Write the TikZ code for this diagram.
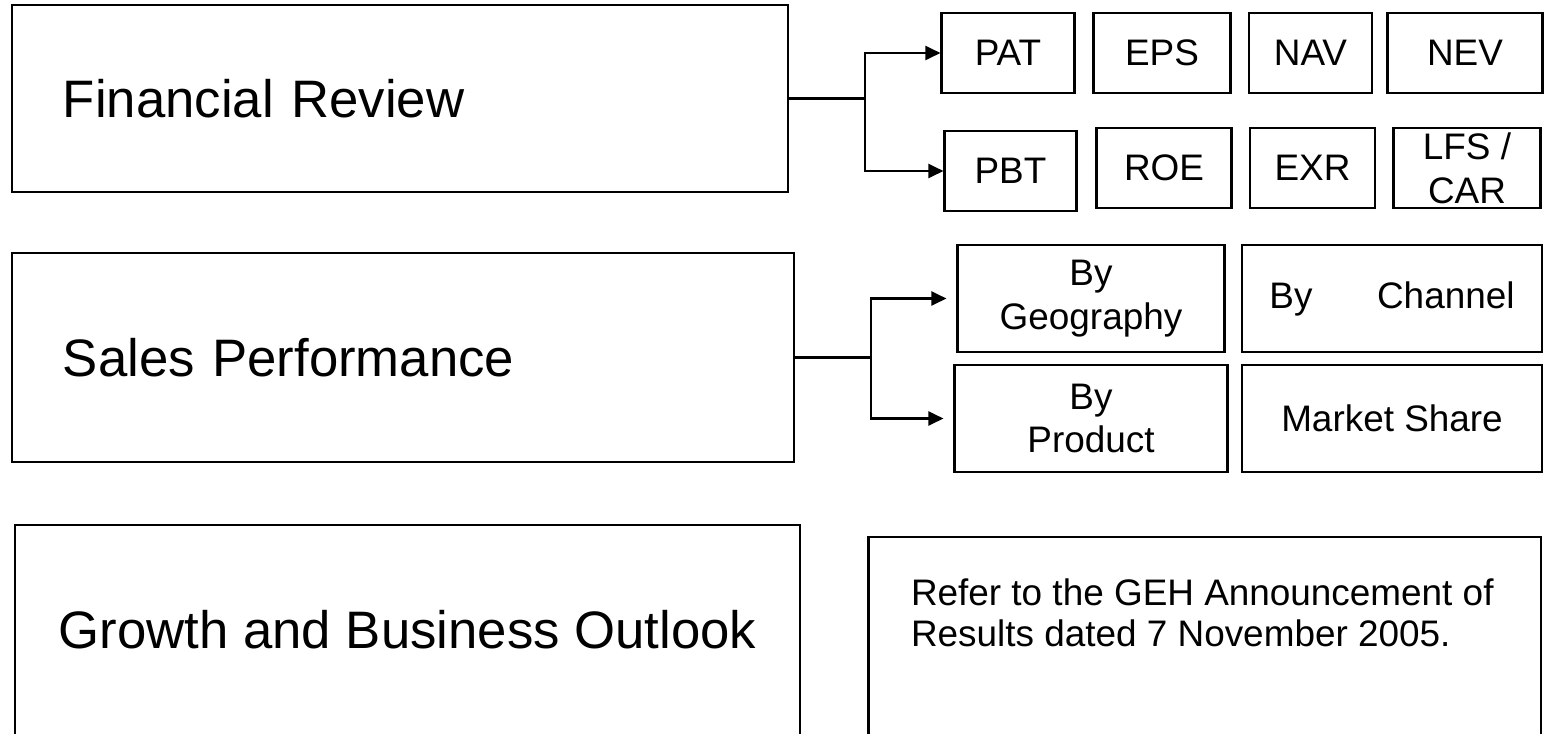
\documentclass[tikz,border=0pt]{standalone}
\usepackage{fontspec}
\setmainfont{Liberation Sans}
\usetikzlibrary{arrows.meta}
\begin{document}
\begin{tikzpicture}[
        head/.style={draw=black,rectangle,line width=0.7pt,align=left,inner xsep=5.1mm,font=\fontsize{15}{18}\selectfont},
        item/.style={draw=black,rectangle,line width=0.6pt,align=center,inner sep=0pt,minimum height=0.8cm,font=\fontsize{10.5}{12.5}\selectfont},
        link/.style={line width=0.6pt},
        arr/.style={link,-{Triangle[length=1.5mm,width=1.4mm]}}
      ]
      \useasboundingbox (0,0) rectangle (15.44,-7.33);
      \clip (0,0) rectangle (15.44,-7.33);
      % topics
      \node[head,text width=6.74cm,minimum height=1.87cm] (fin) at (4.00,-0.985) {Financial Review};
      \node[head,text width=6.80cm,minimum height=2.09cm] (sales) at (4.03,-3.575) {Sales Performance};
      \node[head,inner xsep=0pt,minimum width=7.85cm,minimum height=2.10cm] (growth) at (4.075,-6.30) {Growth and Business Outlook};
      \node[draw=black,line width=0.7pt,inner xsep=4.25mm,inner ysep=4.2mm,anchor=north,font=\fontsize{10.5}{11.4}\selectfont] (note) at (12.0475,-5.36)
        {\begin{minipage}[t][1.26cm][t]{5.875cm}\raggedright Refer to the GEH Announcement of\\Results dated 7 November 2005.\end{minipage}};
      % financial measures
      \node[item,minimum width=1.33cm] (pat) at (10.08,-0.53) {PAT};
      \node[item,minimum width=1.37cm] (eps) at (11.62,-0.53) {EPS};
      \node[item,minimum width=1.23cm] (nav) at (13.105,-0.53) {NAV};
      \node[item,minimum width=1.55cm] (nev) at (14.65,-0.53) {NEV};
      \node[item,minimum width=1.32cm] (pbt) at (10.105,-1.71) {PBT};
      \node[item,minimum width=1.35cm] (roe) at (11.64,-1.68) {ROE};
      \node[item,minimum width=1.25cm] (exr) at (13.125,-1.68) {EXR};
      \node[item,minimum width=1.47cm] (lfs) at (14.67,-1.68) {LFS /\\CAR};
      % sales breakdown
      \node[item,minimum width=2.67cm,minimum height=1.07cm] (geo) at (10.91,-2.985) {By\\Geography};
      \node[item,minimum width=3.00cm,minimum height=1.07cm] (chan) at (13.92,-2.985) {By\hspace{1.75em}Channel};
      \node[item,minimum width=2.73cm,minimum height=1.07cm] (prod) at (10.91,-4.185) {By\\Product};
      \node[item,minimum width=3.00cm,minimum height=1.07cm] (share) at (13.92,-4.185) {Market Share};
      % connectors
      \coordinate (finfork) at (8.65,-0.985);
      \coordinate (salesfork) at (8.71,-3.575);
      \draw[link] (fin.east) -- (finfork);
      \draw[arr] (finfork) |- (pat.west);
      \draw[arr] (finfork) |- (pbt.west);
      \draw[link] (sales.east) -- (salesfork);
      \draw[arr,shorten >=1mm] (salesfork) |- (geo.west);
      \draw[arr,shorten >=1mm] (salesfork) |- (prod.west);
    \end{tikzpicture}
\end{document}
